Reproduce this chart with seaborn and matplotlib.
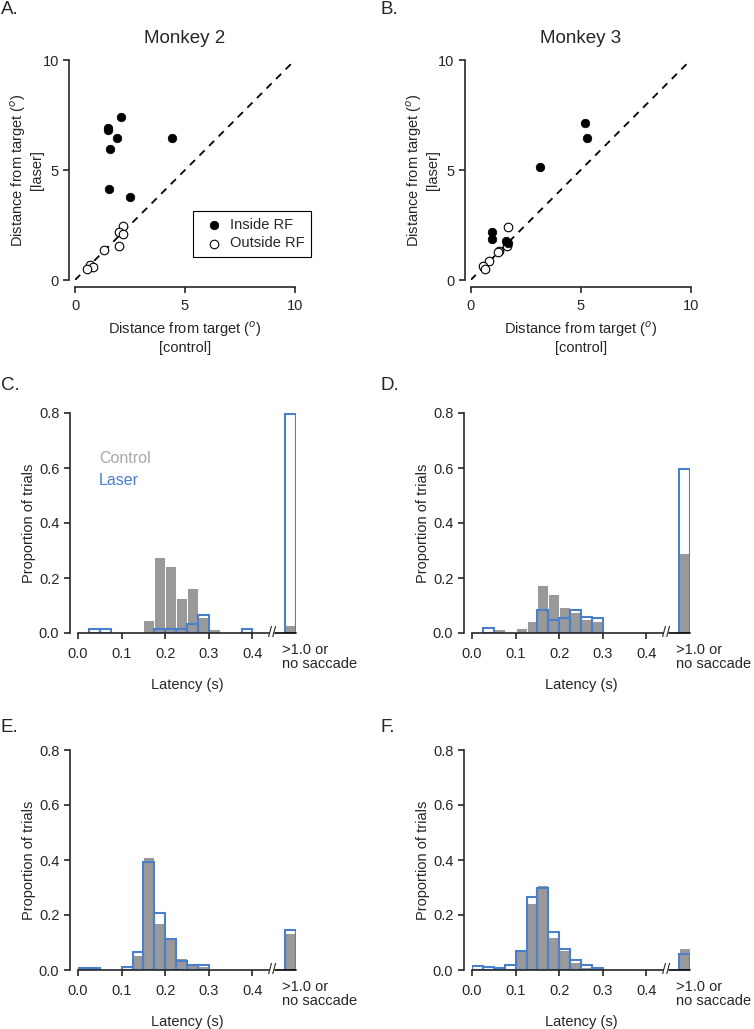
import matplotlib

matplotlib.use("Agg")
import matplotlib.pyplot as plt
import seaborn as sns

sns.set_style("ticks")
plt.rcParams["font.family"] = ["Liberation Sans", "DejaVu Sans"]
plt.rcParams["font.size"] = 10.5
plt.rcParams["axes.linewidth"] = 1.2
plt.rcParams["xtick.major.width"] = 1.2
plt.rcParams["ytick.major.width"] = 1.2

# ── scatter data: distance from target (deg), control vs laser ──
m2_in_ctrl = [2.08, 1.48, 1.52, 1.91, 4.42, 1.58, 1.55, 2.48]
m2_in_laser = [7.42, 6.91, 6.82, 6.47, 6.44, 5.97, 4.14, 3.79]
m2_out_ctrl = [2.17, 1.98, 2.17, 1.98, 1.30, 0.68, 0.82, 0.56]
m2_out_laser = [2.45, 2.20, 2.08, 1.55, 1.35, 0.68, 0.58, 0.50]

m3_in_ctrl = [5.18, 5.29, 3.15, 0.98, 0.98, 1.59, 1.71]
m3_in_laser = [7.12, 6.44, 5.14, 2.20, 1.85, 1.77, 1.70]
m3_out_ctrl = [1.71, 1.64, 1.30, 1.26, 0.83, 0.58, 0.67]
m3_out_laser = [2.42, 1.56, 1.30, 1.26, 0.86, 0.64, 0.50]

# ── latency histograms: proportion of trials per 25 ms bin (0 .. 0.425 s) ──
bin_lefts = [0.0, 0.025, 0.05, 0.075, 0.1, 0.125, 0.15, 0.175, 0.2,
             0.225, 0.25, 0.275, 0.3, 0.325, 0.35, 0.375, 0.4]

c_ctrl = [0, 0, 0, 0, 0, 0, 0.047, 0.278, 0.245, 0.129, 0.163, 0.060, 0.013, 0, 0, 0, 0]
c_laser = [0, 0.016, 0.016, 0, 0, 0, 0, 0.016, 0.016, 0.016, 0.033, 0.067, 0, 0, 0, 0.016, 0]
c_ns = (0.029, 0.795)

d_ctrl = [0, 0, 0.014, 0, 0.019, 0.043, 0.173, 0.143, 0.096, 0.075, 0.050, 0.045, 0, 0, 0, 0, 0]
d_laser = [0, 0.017, 0, 0, 0, 0, 0.084, 0.046, 0.053, 0.084, 0.060, 0.053, 0, 0, 0, 0, 0]
d_ns = (0.291, 0.598)

e_ctrl = [0.004, 0.004, 0, 0, 0.004, 0.055, 0.412, 0.171, 0.118, 0.044, 0.023, 0.015, 0, 0, 0, 0, 0]
e_laser = [0.006, 0.006, 0, 0, 0.010, 0.064, 0.393, 0.207, 0.113, 0.034, 0.019, 0.017, 0, 0, 0, 0, 0]
e_ns = (0.133, 0.145)

f_ctrl = [0.007, 0.007, 0.004, 0.005, 0.073, 0.245, 0.310, 0.121, 0.073, 0.030, 0.012, 0.006, 0, 0, 0, 0, 0]
f_laser = [0.016, 0.010, 0.006, 0.017, 0.070, 0.267, 0.297, 0.140, 0.076, 0.036, 0.017, 0.006, 0, 0, 0, 0, 0]
f_ns = (0.080, 0.057)

BW = 0.025
NS_LEFT = 0.475  # where the ">1.0 or no saccade" bar sits, after the axis break
GRAY = "#999999"
BLUE = "#4a7fcb"

W, H = 754, 1029
fig = plt.figure(figsize=(W / 100, H / 100), dpi=100)


def px_axes(x0, y0, x1, y1):
    return fig.add_axes([x0 / W, 1 - y1 / H, (x1 - x0) / W, (y1 - y0) / H])


def scatter_panel(ax, in_c, in_l, out_c, out_l, legend=False):
    ax.plot([0, 10], [0, 10], color="black", lw=1.3, ls=(0, (4, 3.5)), zorder=1)
    sns.scatterplot(x=out_c, y=out_l, ax=ax, s=38, facecolor="white",
                    edgecolor="black", linewidth=0.8, label="Outside RF", zorder=2)
    sns.scatterplot(x=in_c, y=in_l, ax=ax, s=38, color="black",
                    edgecolor="black", linewidth=0.5, label="Inside RF", zorder=3)
    ax.set_xlim(0, 10)
    ax.set_ylim(0, 10)
    ax.set_xticks([0, 5, 10])
    ax.set_yticks([0, 5, 10])
    for s in ("top", "right"):
        ax.spines[s].set_visible(False)
    ax.spines["left"].set_position(("outward", 4))
    ax.spines["bottom"].set_position(("outward", 5))
    ax.tick_params(direction="out", length=4, labelsize=10.5)
    ax.tick_params(axis="x", pad=5)
    ax.set_xlabel("Distance from target ($^{o}$)\n[control]", fontsize=10.5)
    ax.set_ylabel("Distance from target ($^{o}$)\n[laser]", fontsize=10.5, labelpad=-1)
    h, l = ax.get_legend_handles_labels()
    if legend:
        leg = ax.legend(h[::-1], l[::-1], loc="lower left",
                        bbox_to_anchor=(0.536, 0.105), borderaxespad=0,
                        fancybox=False, edgecolor="black", framealpha=1,
                        handletextpad=0.1, borderpad=0.45, labelspacing=0.3,
                        fontsize=10.5)
        leg.get_frame().set_linewidth(0.8)
    else:
        ax.get_legend().remove()


def hist_panel(ax, ctrl, laser, ns, legend=False):
    centers = [b + BW / 2 for b in bin_lefts] + [NS_LEFT + BW / 2]
    sns.histplot(x=centers, weights=list(ctrl) + [ns[0]], binwidth=BW,
                 binrange=(0, 0.5), ax=ax,
                 color=GRAY, edgecolor="white", linewidth=0.7, alpha=1)
    sns.histplot(x=centers, weights=list(laser) + [ns[1]], binwidth=BW,
                 binrange=(0, 0.5), ax=ax,
                 fill=False, color=BLUE, linewidth=1.5)
    for p in list(ax.patches):
        if p.get_height() <= 0:
            p.remove()
    ax.set_xlim(0, 0.5)
    ax.set_ylim(0, 0.8)
    ax.set_yticks([0, 0.2, 0.4, 0.6, 0.8])
    ax.set_yticklabels(["0.0", "0.2", "0.4", "0.6", "0.8"])
    ax.set_xticks([0, 0.1, 0.2, 0.3, 0.4])
    ax.set_xticklabels(["0.0", "0.1", "0.2", "0.3", "0.4"])
    for s in ("top", "right"):
        ax.spines[s].set_visible(False)
    ax.spines["left"].set_position(("outward", 6))
    ax.spines["left"].set_bounds(0, 0.8)
    ax.spines["bottom"].set_bounds(0, 0.437)
    ax.plot([0.452, 0.5], [0, 0], color="black", lw=1.2, clip_on=False, zorder=5)
    ax.text(0.4445, 0, "//", ha="center", va="center", fontsize=10.5, zorder=6)
    ax.tick_params(direction="out", length=4, labelsize=10.5)
    ax.tick_params(axis="x", pad=6)
    ax.text(0.468, -0.045, ">1.0 or\nno saccade", transform=ax.get_xaxis_transform(),
            ha="left", va="top", fontsize=10.5, linespacing=1.05)
    ax.set_xlabel("Latency (s)", fontsize=10.5, labelpad=12)
    ax.set_ylabel("Proportion of trials", fontsize=10.5, labelpad=2)
    if legend:
        ax.text(0.096, 0.795, "Control", transform=ax.transAxes, color="#a8a8a8",
                fontsize=11.5, va="center")
        ax.text(0.096, 0.695, "Laser", transform=ax.transAxes, color=BLUE,
                fontsize=11.5, va="center")


ax_a = px_axes(75, 60, 295, 280)
ax_b = px_axes(470.7, 60, 690.7, 280)
scatter_panel(ax_a, m2_in_ctrl, m2_in_laser, m2_out_ctrl, m2_out_laser, legend=True)
scatter_panel(ax_b, m3_in_ctrl, m3_in_laser, m3_out_ctrl, m3_out_laser)
ax_a.set_title("Monkey 2", fontsize=13.5, pad=12)
ax_b.set_title("Monkey 3", fontsize=13.5, pad=12)

ax_c = px_axes(78, 413, 296, 633)
ax_d = px_axes(472, 413, 690, 633)
ax_e = px_axes(78, 750, 296, 970)
ax_f = px_axes(472, 750, 690, 970)
hist_panel(ax_c, c_ctrl, c_laser, c_ns, legend=True)
hist_panel(ax_d, d_ctrl, d_laser, d_ns)
hist_panel(ax_e, e_ctrl, e_laser, e_ns)
hist_panel(ax_f, f_ctrl, f_laser, f_ns)

letters = [("A.", 1, 9), ("B.", 380, 9), ("C.", 1, 385), ("D.", 380, 385),
           ("E.", 1, 728), ("F.", 380, 728)]
for txt, x, y in letters:
    fig.text(x / W, 1 - y / H, txt, fontsize=13.5, ha="left", va="center")

fig.savefig("out.png", dpi=100)
